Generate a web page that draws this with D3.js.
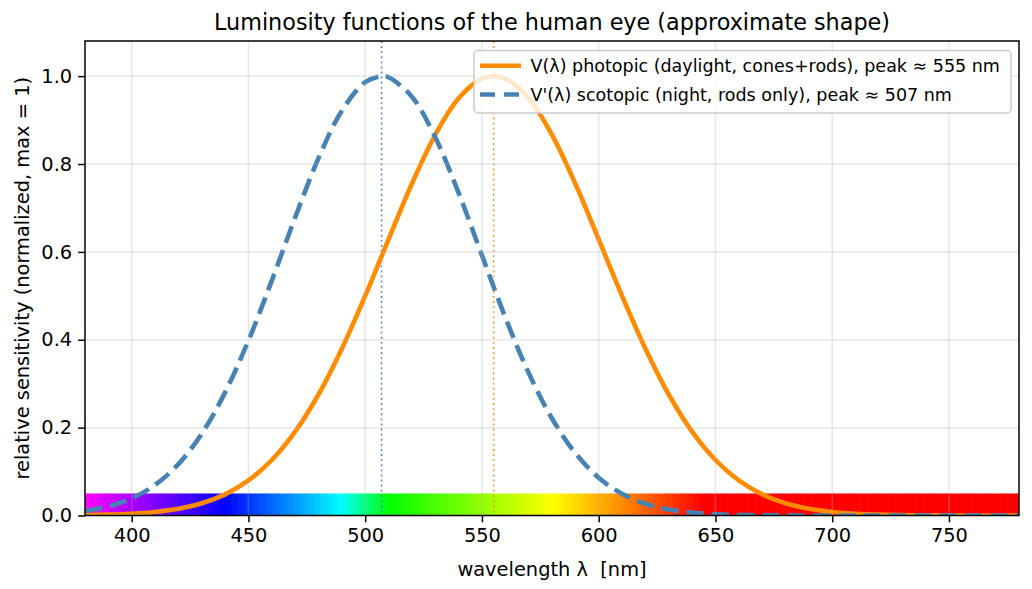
<!DOCTYPE html>
<html>
<head>
<meta charset="utf-8">
<script src="https://cdn.jsdelivr.net/npm/d3@7/dist/d3.min.js"></script>
<style>
  html, body { margin: 0; padding: 0; background: #fff; }
  svg text { font-family: "DejaVu Sans", sans-serif; fill: #000; }
</style>
</head>
<body>
<svg id="chart" width="1032" height="589"></svg>
<script>
// ---------------- data ----------------
const photopicWavelengths = [380,390,400,410,420,430,440,450,460,470,480,490,500,510,520,530,540,550,555,560,570,580,590,600,610,620,630,640,650,660,670,680,690,700,710,720,730,740,750,760,770,780];
const photopicValues = [0.0009,0.0019,0.0040,0.0081,0.0153,0.0278,0.0482,0.0798,0.1263,0.1909,0.2754,0.3796,0.4998,0.6286,0.7551,0.8665,0.9497,0.9943,1.0,0.9943,0.9497,0.8665,0.7551,0.6286,0.4998,0.3796,0.2754,0.1909,0.1263,0.0798,0.0482,0.0278,0.0153,0.0081,0.0040,0.0019,0.0009,0.0004,0.0002,0.0001,0.0,0.0];

const scotopicWavelengths = [380,390,400,410,420,430,440,450,460,470,480,490,500,507,510,520,530,540,550,560,570,580,590,600,610,620,630,640,650,660,670,680,690,700,710,720,730,740,750,760,770,780];
const scotopicValues = [0.0103,0.0207,0.0390,0.0695,0.1170,0.1862,0.2802,0.3982,0.5347,0.6784,0.8133,0.9214,0.9862,1.0,0.9975,0.9532,0.8608,0.7344,0.5921,0.4510,0.3247,0.2208,0.1419,0.0861,0.0494,0.0268,0.0137,0.0066,0.0030,0.0013,0.0005,0.0002,0.0001,0.0,0.0,0.0,0.0,0.0,0.0,0.0,0.0,0.0];

const photopicPeak = 555;
const scotopicPeak = 507;
const spectrumBandHeight = 0.05;

const xTicks = [400,450,500,550,600,650,700,750];
const yTicks = [0.0,0.2,0.4,0.6,0.8,1.0];
const xDomain = [380, 780];
const yDomain = [0, 1.08];

const titleText = "Luminosity functions of the human eye (approximate shape)";
const xLabelText = "wavelength λ  [nm]";
const yLabelText = "relative sensitivity (normalized, max = 1)";
const legendLabels = [
  "V(λ) photopic (daylight, cones+rods), peak ≈ 555 nm",
  "V'(λ) scotopic (night, rods only), peak ≈ 507 nm"
];

// ---------------- layout ----------------
const M = { left: 85, right: 1019, top: 41, bottom: 515.5 };
const svg = d3.select("#chart");
svg.append("rect").attr("width", 1032).attr("height", 589).attr("fill", "#fff");

const x = d3.scaleLinear().domain(xDomain).range([M.left, M.right]);
const y = d3.scaleLinear().domain(yDomain).range([M.bottom, M.top]);

svg.append("defs").append("clipPath").attr("id", "clip")
  .append("rect").attr("x", M.left).attr("y", M.top)
  .attr("width", M.right - M.left).attr("height", M.bottom - M.top);

const plot = svg.append("g").attr("clip-path", "url(#clip)");

// spectrum band (visible-light colour strip)
function wl2rgb(w) {
  let r, g, b;
  if (w < 440) { r = -(w - 440) / 60; g = 0; b = 1; }
  else if (w < 490) { r = 0; g = (w - 440) / 50; b = 1; }
  else if (w < 510) { r = 0; g = 1; b = -(w - 510) / 20; }
  else if (w < 580) { r = (w - 510) / 70; g = 1; b = 0; }
  else if (w < 645) { r = 1; g = -(w - 645) / 65; b = 0; }
  else { r = 1; g = 0; b = 0; }
  return d3.rgb(r * 255, g * 255, b * 255).toString();
}
const bandSteps = d3.range(xDomain[0], xDomain[1], 1);
plot.append("g").selectAll("rect").data(bandSteps).join("rect")
  .attr("x", d => x(d))
  .attr("width", d => x(d + 1) - x(d) + 0.6)
  .attr("y", y(spectrumBandHeight))
  .attr("height", y(0) - y(spectrumBandHeight))
  .attr("fill", d => wl2rgb(d + 0.5));

// grid
const grid = svg.append("g");
grid.selectAll(".gx").data(xTicks).join("line")
  .attr("x1", d => x(d)).attr("x2", d => x(d))
  .attr("y1", M.top).attr("y2", M.bottom)
  .attr("stroke", "#b0b0b0").attr("stroke-opacity", 0.3).attr("stroke-width", 1.5);
grid.selectAll(".gy").data(yTicks).join("line")
  .attr("y1", d => y(d)).attr("y2", d => y(d))
  .attr("x1", M.left).attr("x2", M.right)
  .attr("stroke", "#b0b0b0").attr("stroke-opacity", 0.3).attr("stroke-width", 1.5);

// peak markers
plot.append("line")
  .attr("x1", x(scotopicPeak)).attr("x2", x(scotopicPeak))
  .attr("y1", M.top).attr("y2", M.bottom)
  .attr("stroke", "steelblue").attr("stroke-width", 1.6).attr("stroke-opacity", 0.9)
  .attr("stroke-dasharray", "1.9,3.2");
plot.append("line")
  .attr("x1", x(photopicPeak)).attr("x2", x(photopicPeak))
  .attr("y1", M.top).attr("y2", M.bottom)
  .attr("stroke", "darkorange").attr("stroke-width", 1.6).attr("stroke-opacity", 0.9)
  .attr("stroke-dasharray", "1.9,3.2");

// curves
const line = d3.line().curve(d3.curveCatmullRom.alpha(0.5))
  .x(d => x(d[0])).y(d => y(d[1]));
const photopicPts = photopicWavelengths.map((w, i) => [w, photopicValues[i]]);
const scotopicPts = scotopicWavelengths.map((w, i) => [w, scotopicValues[i]]);

plot.append("path").datum(photopicPts).attr("d", line)
  .attr("fill", "none").attr("stroke", "darkorange").attr("stroke-width", 4.6)
  .attr("stroke-linejoin", "round");
plot.append("path").datum(scotopicPts).attr("d", line)
  .attr("fill", "none").attr("stroke", "steelblue").attr("stroke-width", 4.6)
  .attr("stroke-dasharray", "17.5,7.8");

// axes / spines
const xAxis = d3.axisBottom(x).tickValues(xTicks).tickFormat(d3.format("d"))
  .tickSize(6.8).tickPadding(5);
const yAxis = d3.axisLeft(y).tickValues(yTicks).tickFormat(d3.format(".1f"))
  .tickSize(6.8).tickPadding(6);

const gx = svg.append("g").attr("transform", `translate(0,${M.bottom})`).call(xAxis);
const gy = svg.append("g").attr("transform", `translate(${M.left},0)`).call(yAxis);
[gx, gy].forEach(g => {
  g.select(".domain").remove();
  g.selectAll(".tick line").attr("stroke", "#000").attr("stroke-width", 1.5);
  g.selectAll(".tick text").attr("font-size", 19.4).attr("fill", "#000")
    .style("font-family", "DejaVu Sans");
});
gx.selectAll(".tick text").attr("dy", "0.76em");

svg.append("rect")
  .attr("x", M.left).attr("y", M.top)
  .attr("width", M.right - M.left).attr("height", M.bottom - M.top)
  .attr("fill", "none").attr("stroke", "#000").attr("stroke-width", 1.5);

// title & labels
svg.append("text").attr("x", (M.left + M.right) / 2).attr("y", 29.5)
  .attr("text-anchor", "middle").attr("font-size", 22.3).text(titleText);
svg.append("text").attr("x", (M.left + M.right) / 2).attr("y", 576)
  .attr("text-anchor", "middle").attr("font-size", 19.4)
  .style("white-space", "pre").attr("xml:space", "preserve").text(xLabelText);
svg.append("text")
  .attr("transform", `translate(29,${(M.top + M.bottom) / 2}) rotate(-90)`)
  .attr("text-anchor", "middle").attr("font-size", 19.4).text(yLabelText);

// legend
const lg = svg.append("g");
lg.append("rect").attr("x", 474).attr("y", 50.5).attr("width", 537).attr("height", 62.5)
  .attr("rx", 4).attr("fill", "#fff").attr("fill-opacity", 0.8)
  .attr("stroke", "#cccccc").attr("stroke-width", 1.5);
const legendColors = ["darkorange", "steelblue"];
const legendDash = [null, "15,9"];
const rowY = [65.7, 94.5];
legendLabels.forEach((t, i) => {
  lg.append("line").attr("x1", 480).attr("x2", 521)
    .attr("y1", rowY[i]).attr("y2", rowY[i])
    .attr("stroke", legendColors[i]).attr("stroke-width", 4.6)
    .attr("stroke-dasharray", legendDash[i]);
  lg.append("text").attr("x", 530.5).attr("y", rowY[i]).attr("dy", "0.36em")
    .attr("font-size", 17.5).text(t);
});
</script>
</body>
</html>
